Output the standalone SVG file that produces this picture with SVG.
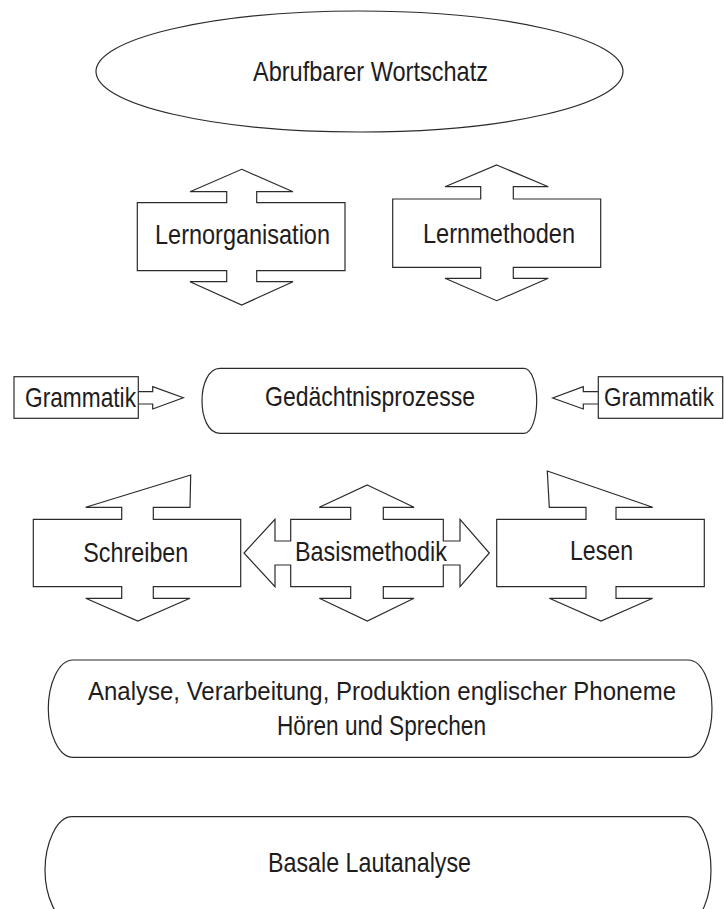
<svg xmlns="http://www.w3.org/2000/svg" width="724" height="909" viewBox="0 0 724 909">
<style>
.shape{fill:#ffffff;stroke:#2b2b2b;stroke-width:1.2;stroke-linejoin:miter}
.conn{fill:#ffffff;stroke:#2b2b2b;stroke-width:1.2}
.t{font-family:"Liberation Sans",Arial,sans-serif;font-size:28px;fill:#1e1c1d}
.ts{font-size:25px}
</style>
<rect x="0" y="0" width="724" height="909" fill="#ffffff"/>
<g id="connectors">
<path class="conn" d="M138.3,391.7 L152.7,391.7 L152.7,386.7 L183.3,397.7 L152.7,409 L152.7,404 L138.3,404"/>
<path class="conn" d="M598.3,391.7 L583.3,391.7 L583.3,386.7 L552.7,398 L583.3,409 L583.3,404 L598.3,404"/>
</g>
<g id="wortschatz">
<ellipse class="shape" cx="359.5" cy="71.5" rx="263.5" ry="60.5"/>
<text class="t" x="253" y="80.5" textLength="235" lengthAdjust="spacingAndGlyphs">Abrufbarer Wortschatz</text>
</g>
<g id="lernorganisation">
<path class="shape" d="M241.7,169.3 L293,191.7 L256.7,191.7 L256.7,202.7 L345,202.7 L345,270.7 L256.7,270.7 L256.7,281.7 L293,281.7 L241.7,305 L190,281.7 L226.7,281.7 L226.7,270.7 L137.3,270.7 L137.3,202.7 L226.7,202.7 L226.7,191.7 L190,191.7 Z"/>
<text class="t" x="155" y="243.5" textLength="175" lengthAdjust="spacingAndGlyphs">Lernorganisation</text>
</g>
<g id="lernmethoden">
<path class="shape" d="M496.7,165 L548.3,186.7 L513.3,186.7 L513.3,199 L600.7,199 L600.7,267.3 L513.3,267.3 L513.3,278.3 L548.3,278.3 L496.7,300.7 L445,278.3 L480.7,278.3 L480.7,267.3 L392.7,267.3 L392.7,199 L480.7,199 L480.7,186.7 L445,186.7 Z"/>
<text class="t" x="423" y="242.5" textLength="152" lengthAdjust="spacingAndGlyphs">Lernmethoden</text>
</g>
<g id="grammatik-links">
<rect class="shape" x="14" y="376.7" width="124.3" height="41.6"/>
<text class="t" x="25" y="406.5" textLength="111" lengthAdjust="spacingAndGlyphs">Grammatik</text>
</g>
<g id="gedaechtnisprozesse">
<path class="shape" d="M220,368.3 H524 C532,368.3 536.7,385 536.7,400.8 C536.7,417 532,433.3 524,433.3 H220 C208,433.3 202,417 202,400.8 C202,385 208,368.3 220,368.3 Z"/>
<text class="t" x="265" y="405.5" textLength="210" lengthAdjust="spacingAndGlyphs">Gedächtnisprozesse</text>
</g>
<g id="grammatik-rechts">
<rect class="shape" x="598.3" y="376.7" width="124.4" height="41.6"/>
<text class="t ts" x="604" y="406" textLength="110" lengthAdjust="spacingAndGlyphs">Grammatik</text>
</g>
<g id="schreiben">
<path class="shape" d="M85.7,507.3 L190.7,475 L190,507.3 L153.3,507.3 L153.3,519.3 L240.7,519.3 L240.7,586.7 L153.3,586.7 L153.3,598.3 L190,598.3 L137.8,621 L85.7,598.3 L121.7,598.3 L121.7,586.7 L33.3,586.7 L33.3,519.3 L121.7,519.3 L121.7,507.3 Z"/>
<text class="t" x="83.3" y="562" textLength="105" lengthAdjust="spacingAndGlyphs">Schreiben</text>
</g>
<g id="basismethodik">
<path class="shape" d="M367.3,485 L414,507.3 L383.3,507.3 L383.3,519.3 L443.3,519.3 L443.3,541 L460,541 L460,519.3 L489.3,553 L460,586.7 L460,565 L443.3,565 L443.3,586.7 L383.3,586.7 L383.3,598.3 L414,598.3 L367.3,621 L319.3,598.3 L350.7,598.3 L350.7,586.7 L290.7,586.7 L290.7,565 L275,565 L275,586.7 L244,553 L275,519.3 L275,541 L290.7,541 L290.7,519.3 L350.7,519.3 L350.7,507.3 L319.3,507.3 Z"/>
<text class="t" x="295" y="561" textLength="152" lengthAdjust="spacingAndGlyphs">Basismethodik</text>
</g>
<g id="lesen">
<path class="shape" d="M547.3,471 L652.7,507.3 L616,507.3 L616,519.3 L704.3,519.3 L704.3,586.7 L616,586.7 L616,598.3 L652.7,598.3 L601,621 L549.3,598.3 L586,598.3 L586,586.7 L496.7,586.7 L496.7,519.3 L586,519.3 L586,507.3 L549.3,507.3 Z"/>
<text class="t" x="570" y="559.5" textLength="63" lengthAdjust="spacingAndGlyphs">Lesen</text>
</g>
<g id="phoneme">
<path class="shape" d="M73,660 H688 C703,660 712,685 712,708.7 C712,732 703,757.3 688,757.3 H73 C58,757.3 48.3,732 48.3,708.7 C48.3,685 58,660 73,660 Z"/>
<text class="t ts" x="88" y="700" textLength="588" lengthAdjust="spacingAndGlyphs">Analyse, Verarbeitung, Produktion englischer Phoneme</text>
<text class="t" x="277" y="734.5" textLength="209" lengthAdjust="spacingAndGlyphs">Hören und Sprechen</text>
</g>
<g id="lautanalyse">
<path class="shape" d="M72,816.7 H686 C702,816.7 711,845 711,870 C711,895 702,923 686,923 H72 C56,923 45,895 45,870 C45,845 56,816.7 72,816.7 Z"/>
<text class="t" x="268" y="871.5" textLength="203" lengthAdjust="spacingAndGlyphs">Basale Lautanalyse</text>
</g>
</svg>
